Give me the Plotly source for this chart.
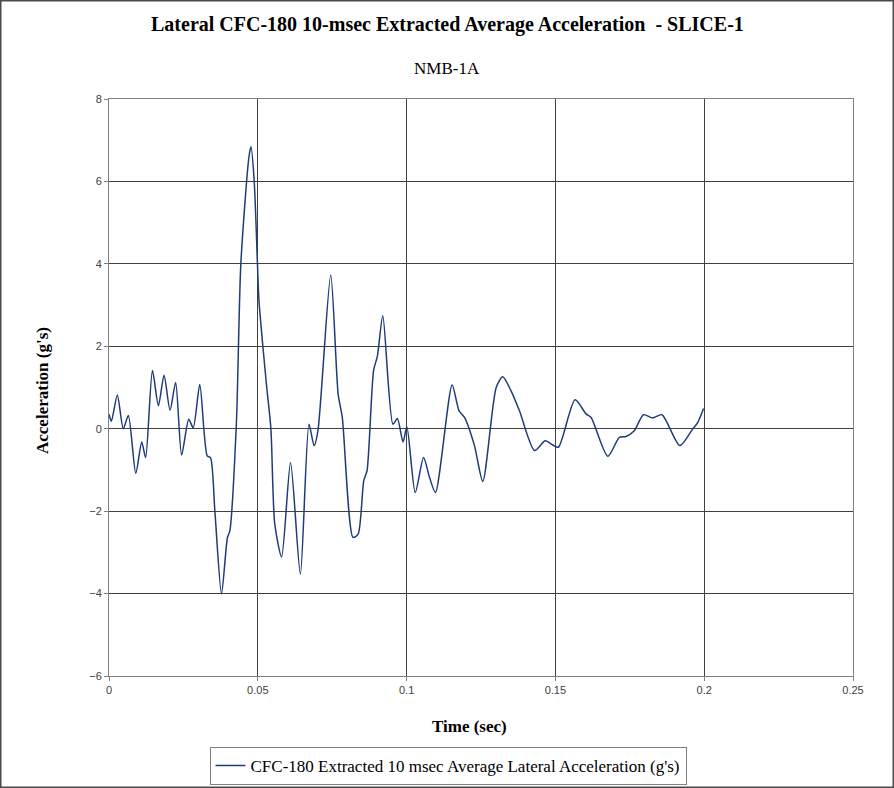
import plotly.graph_objects as go

time_sec = [0.0, 0.0008, 0.0028, 0.0048, 0.0065, 0.009, 0.011, 0.0123, 0.0146, 0.0166,
            0.0185, 0.0205, 0.0224, 0.0244, 0.0268, 0.0283, 0.0305, 0.033, 0.0341, 0.0356,
            0.0378, 0.0398, 0.0406, 0.0428, 0.0443, 0.047, 0.0477, 0.0488, 0.0499, 0.0504,
            0.0529, 0.0544, 0.0557, 0.058, 0.061, 0.0643, 0.0672, 0.0689, 0.0702, 0.0745,
            0.077, 0.0784, 0.082, 0.0837, 0.0856, 0.0867, 0.0889, 0.0902, 0.092, 0.0954,
            0.0969, 0.0988, 0.1001, 0.1029, 0.1057, 0.1077, 0.1097, 0.1153, 0.1176, 0.1195,
            0.1228, 0.1256, 0.1301, 0.1323, 0.1351, 0.1379, 0.143, 0.1466, 0.149, 0.151,
            0.1566, 0.1603, 0.162, 0.1676, 0.1715, 0.1737, 0.1765, 0.1796, 0.1827, 0.1858,
            0.1918, 0.1961, 0.1978, 0.1998]
accel_g = [0.35, 0.18, 0.82, 0.0, 0.32, -1.08, -0.32, -0.70, 1.41, 0.56,
           1.30, 0.45, 1.12, -0.64, 0.23, 0.02, 1.07, -0.66, -0.70, -2.03,
           -4.01, -2.64, -2.48, 0.12, 4.0, 6.58, 6.84, 6.0, 3.97, 3.1,
           1.08, 0.0, -2.31, -3.11, -0.82, -3.53, 0.11, -0.41, -0.05, 3.73,
           0.84, 0.27, -2.64, -2.56, -1.26, -1.02, 1.41, 1.77, 2.74, 0.11,
           0.25, -0.32, 0.05, -1.55, -0.70, -1.18, -1.55, 1.06, 0.44, 0.27,
           -0.41, -1.28, 1.0, 1.26, 0.92, 0.44, -0.53, -0.29, -0.39, -0.45,
           0.70, 0.36, 0.27, -0.67, -0.21, -0.19, -0.05, 0.34, 0.26, 0.34,
           -0.41, -0.01, 0.15, 0.49]

x_ticks = [0, 0.05, 0.1, 0.15, 0.2, 0.25]
x_tick_labels = ["0", "0.05", "0.1", "0.15", "0.2", "0.25"]
y_ticks = [-6, -4, -2, 0, 2, 4, 6, 8]

serif = "Liberation Serif, Times New Roman, serif"
sans = "Liberation Sans, Arial, sans-serif"

fig = go.Figure()
fig.add_trace(go.Scatter(
    x=time_sec, y=accel_g, mode="lines",
    line=dict(color="#1F3C7A", width=1.5, shape="spline", smoothing=0.7),
    name="CFC-180 Extracted 10 msec Average Lateral Acceleration (g's)",
    showlegend=True,
))

L, R, T, B = 109, 41, 99, 112
W, H = 894, 788
pw, ph = W - L - R, H - T - B

fig.update_layout(
    width=W, height=H,
    margin=dict(l=L, r=R, t=T, b=B, autoexpand=False),
    paper_bgcolor="white", plot_bgcolor="white",
    font=dict(family=serif, color="black"),
    showlegend=True,
    legend=dict(
        x=(448 - L) / pw, xanchor="center", y=(676 - 747) / ph, yanchor="top",
        orientation="h", bordercolor="#808080", borderwidth=1,
        font=dict(family=serif, size=17, color="black"),
        bgcolor="white", itemwidth=30,
    ),
    xaxis=dict(
        range=[0, 0.25], tickvals=x_ticks, ticktext=x_tick_labels,
        showgrid=True, gridcolor="#404040", gridwidth=1,
        zeroline=False, showline=True, linecolor="#808080", linewidth=1, mirror=True,
        ticks="outside", ticklen=4, tickcolor="#808080",
        tickfont=dict(family=sans, size=11, color="#404040"),
    ),
    yaxis=dict(
        range=[-6, 8], tickvals=y_ticks,
        showgrid=True, gridcolor="#404040", gridwidth=1,
        zeroline=True, zerolinecolor="#404040", zerolinewidth=1,
        showline=True, linecolor="#808080", linewidth=1, mirror=True,
        ticks="outside", ticklen=4, tickcolor="#808080",
        tickfont=dict(family=sans, size=11, color="#404040"),
    ),
    annotations=[
        dict(text="<b>Lateral CFC-180 10-msec Extracted Average Acceleration  - SLICE-1</b>",
             xref="paper", yref="paper", x=(447 - L) / pw, y=(676 - 25) / ph,
             showarrow=False, font=dict(family=serif, size=20, color="black"),
             xanchor="center", yanchor="middle"),
        dict(text="NMB-1A",
             xref="paper", yref="paper", x=(447 - L) / pw, y=(676 - 68) / ph,
             showarrow=False, font=dict(family=serif, size=17, color="black"),
             xanchor="center", yanchor="middle"),
        dict(text="<b>Time (sec)</b>",
             xref="paper", yref="paper", x=(469 - L) / pw, y=(676 - 726) / ph,
             showarrow=False, font=dict(family=serif, size=17, color="black"),
             xanchor="center", yanchor="middle"),
        dict(text="<b>Acceleration (g's)</b>",
             xref="paper", yref="paper", x=(43 - L) / pw, y=(676 - 391) / ph,
             showarrow=False, textangle=-90, font=dict(family=serif, size=17, color="black"),
             xanchor="center", yanchor="middle"),
    ],
    shapes=[
        dict(type="rect", xref="paper", yref="paper",
             x0=(-L + 0.75) / pw, x1=1 + (R - 0.75) / pw,
             y0=(-B + 0.75) / ph, y1=1 + (T - 0.75) / ph,
             line=dict(color="#4a4a4a", width=1.5), layer="above"),
    ],
)

fig.write_html("out.html", config={"displayModeBar": False},
               post_script="document.body.style.margin='0';document.body.style.overflow='hidden';")
